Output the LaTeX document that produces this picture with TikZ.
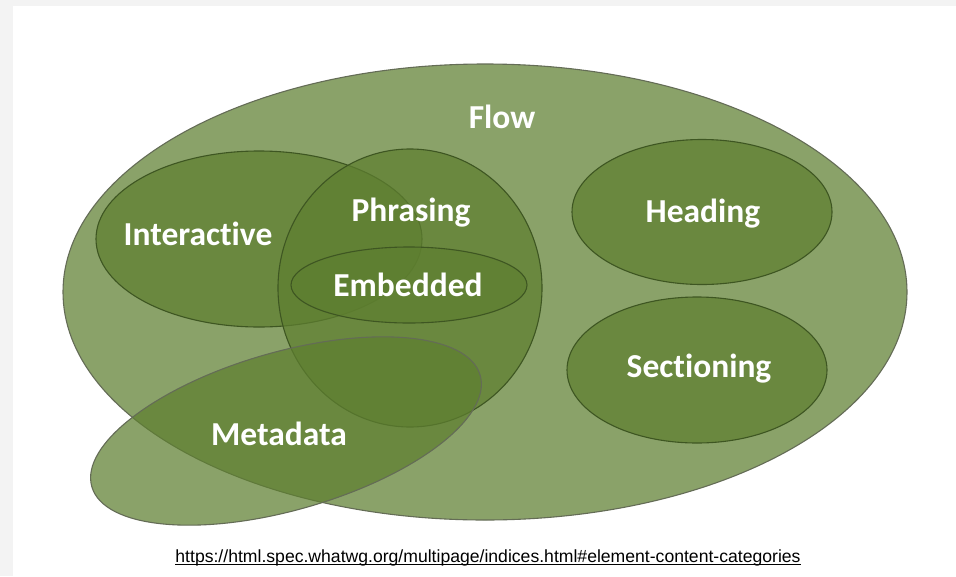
\documentclass[tikz,border=0pt]{standalone}
\usepackage{fontspec}
\setmainfont[Ligatures=NoCommon]{Carlito}
\newfontfamily\arialfont{Liberation Sans}
\usepackage{tikz}
\usetikzlibrary{shapes.geometric}

\definecolor{setfill}{RGB}{94,127,48}
\definecolor{setline}{RGB}{62,86,34}
\definecolor{outerline}{RGB}{100,108,86}
\definecolor{pagegray}{RGB}{243,243,243}

\begin{document}
\begin{tikzpicture}[
    x=1pt, y=-1pt,
    category/.style={ellipse, draw=setline, line width=1.1pt, fill=setfill, fill opacity=0.72, draw opacity=1, inner sep=0pt, outer sep=0pt},
    catlabel/.style={anchor=base, text=white, inner sep=0pt, font=\fontsize{33.5}{40}\selectfont\bfseries},
    source/.style={anchor=base, inner sep=0pt, font=\arialfont\fontsize{17.6}{21}\selectfont}
]

% Page
\useasboundingbox (0,0) rectangle (956,576);
\fill[pagegray] (0,0) rectangle (956,576);
\fill[white] (13,6) rectangle (956,576);

% Category sets
\node[category, draw=outerline, minimum width=844pt, minimum height=456pt] (flow) at (485,292) {};
\node[category, minimum width=326pt, minimum height=176pt] (inter) at (259,239) {};
\node[category, minimum width=264pt, minimum height=278pt] (phr) at (410,288) {};
\node[category, minimum width=236pt, minimum height=76pt] (emb) at (409,285) {};
\node[category, minimum width=260pt, minimum height=145pt] (head) at (702,212) {};
\node[category, minimum width=260pt, minimum height=146pt] (sect) at (697,370) {};
\node[category, draw=outerline, rotate=16, minimum width=404pt, minimum height=158pt] (meta) at (286,431) {};

% Labels
\node[catlabel] (lflow) at (502,128) {Flow};
\node[catlabel] (linter) at (198,245) {Interactive};
\node[catlabel] (lphr) at (411,221) {Phrasing};
\node[catlabel] (lemb) at (408,296) {Embedded};
\node[catlabel] (lhead) at (703,222) {Heading};
\node[catlabel] (lsect) at (699,377) {Sectioning};
\node[catlabel] (lmeta) at (279,445) {Metadata};

% Source link
\node[source] (src) at (488,562) {https://html.spec.whatwg.org/multipage/indices.html\#element-content-categories};
\draw[line width=1pt] ([yshift=-2.5pt]src.base west) -- ([yshift=-2.5pt]src.base east);

\end{tikzpicture}
\end{document}
